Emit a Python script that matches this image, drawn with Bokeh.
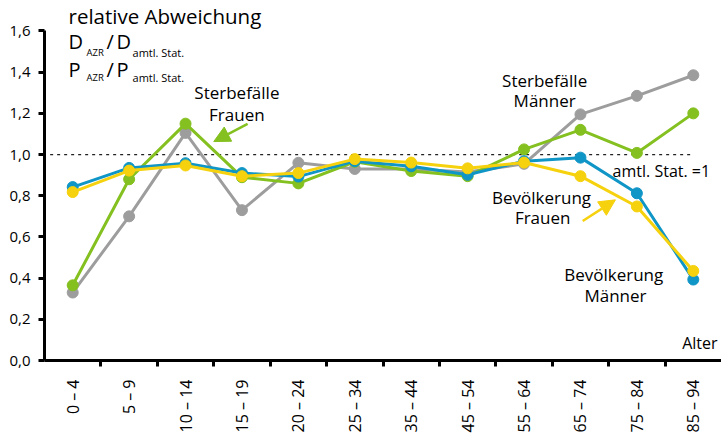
from bokeh.plotting import figure
from bokeh.models import (FixedTicker, Label, Arrow, NormalHead, Range1d)
from bokeh.embed import file_html
from bokeh.resources import INLINE
import math

# ---------------- data ----------------
age_groups = ["0 – 4", "5 – 9", "10 – 14", "15 – 19", "20 – 24", "25 – 34",
              "35 – 44", "45 – 54", "55 – 64", "65 – 74", "75 – 84", "85 – 94"]
sterbe_maenner = [0.33, 0.70, 1.105, 0.73, 0.96, 0.93, 0.93, 0.915, 0.955, 1.195, 1.285, 1.385]
sterbe_frauen = [0.365, 0.88, 1.15, 0.89, 0.86, 0.965, 0.92, 0.895, 1.025, 1.12, 1.008, 1.20]
bev_maenner = [0.842, 0.935, 0.958, 0.91, 0.893, 0.968, 0.943, 0.902, 0.968, 0.985, 0.812, 0.393]
bev_frauen = [0.818, 0.922, 0.947, 0.895, 0.91, 0.978, 0.961, 0.933, 0.961, 0.895, 0.748, 0.435]
y_ticks = [0.0, 0.2, 0.4, 0.6, 0.8, 1.0, 1.2, 1.4, 1.6]
y_tick_labels = ["0,0", "0,2", "0,4", "0,6", "0,8", "1,0", "1,2", "1,4", "1,6"]
reference_level = 1.0

GRAY = "#9d9d9d"
GREEN = "#84c01f"
BLUE = "#0f95c6"
YELLOW = "#f6d10d"
FONT = "Open Sans"

n = len(age_groups)
xs = [i + 0.5 for i in range(n)]

p = figure(width=721, height=435, output_backend="svg", toolbar_location=None,
           x_range=Range1d(0, n), y_range=Range1d(0, 1.748),
           min_border_left=44, min_border_right=0, min_border_top=0,
           min_border_bottom=64)
p.outline_line_color = None
p.xgrid.visible = False
p.ygrid.visible = False
p.background_fill_color = "white"

# reference line
p.line([0.1, xs[-1]], [reference_level, reference_level], line_color="#222222",
       line_width=1.2, line_dash="3 4")

for vals, col in [(sterbe_maenner, GRAY), (sterbe_frauen, GREEN),
                  (bev_maenner, BLUE), (bev_frauen, YELLOW)]:
    p.line(xs, vals, line_color=col, line_width=3)
    p.scatter(xs, vals, size=11, fill_color=col, line_color=col)

# y axis
ya = p.yaxis[0]
ya.ticker = FixedTicker(ticks=y_ticks, minor_ticks=[])
ya.major_label_overrides = {t: l for t, l in zip(y_ticks, y_tick_labels)}
ya.bounds = (0, 1.6)
ya.axis_line_width = 3
ya.axis_line_color = "black"
ya.major_tick_line_width = 3
ya.major_tick_in = 0
ya.major_tick_out = 6
ya.major_label_text_font = FONT
ya.major_label_text_font_size = "15px"
ya.major_label_text_color = "black"
ya.major_label_standoff = 8

# x axis
xa = p.xaxis[0]
xa.ticker = FixedTicker(ticks=xs, minor_ticks=list(range(1, n)))
xa.major_label_overrides = {x: l for x, l in zip(xs, age_groups)}
xa.axis_line_width = 3
xa.axis_line_color = "black"
xa.major_tick_in = 0
xa.major_tick_out = 0
xa.minor_tick_in = 0
xa.minor_tick_out = 6
xa.minor_tick_line_width = 3
xa.minor_tick_line_color = "black"
xa.major_label_orientation = math.pi / 2
xa.major_label_text_font = FONT
xa.major_label_text_font_size = "16px"
xa.major_label_text_color = "black"
xa.major_label_standoff = 13


def lab(text, x, y, size="17px", align="center", x_offset=0):
    p.add_layout(Label(x=x, y=y, text=text, text_font=FONT, text_font_size=size,
                       text_align=align, text_baseline="middle", text_color="black",
                       x_offset=x_offset))


# title block
ax0 = 0.426
lab("relative Abweichung", ax0, 1.672, "20.5px", "left")
for yb, ys, letter in [(1.55, 1.497, "D"), (1.415, 1.372, "P")]:
    lab(letter, ax0, yb, "20px", "left", 0)
    lab("AZR", ax0, ys, "9.5px", "left", 18)
    lab("/", ax0, yb, "20px", "left", 38)
    lab(letter, ax0, yb, "20px", "left", 48)
    lab("amtl. Stat.", ax0, ys, "11px", "left", 64)

lab("Sterbefälle", 3.41, 1.30)
lab("Frauen", 3.41, 1.196)
lab("Sterbefälle", 8.865, 1.361)
lab("Männer", 8.865, 1.262)
lab("amtl. Stat. =1", 10.07, 0.922, "16px", "left")
lab("Bevölkerung", 8.81, 0.79)
lab("Frauen", 8.83, 0.696)
lab("Bevölkerung", 10.09, 0.417)
lab("Männer", 10.12, 0.318)
lab("Alter", 11.93, 0.083, "16px", "right")

p.add_layout(Arrow(x_start=3.60, y_start=1.149, x_end=3.0, y_end=1.063,
                   line_color=GREEN, line_width=2.5,
                   end=NormalHead(size=16, fill_color=GREEN, line_color=GREEN)))
p.add_layout(Arrow(x_start=9.54, y_start=0.677, x_end=10.12, y_end=0.780,
                   line_color=YELLOW, line_width=2.5,
                   end=NormalHead(size=16, fill_color=YELLOW, line_color=YELLOW)))

open("out.html", "w").write(file_html(p, INLINE))
